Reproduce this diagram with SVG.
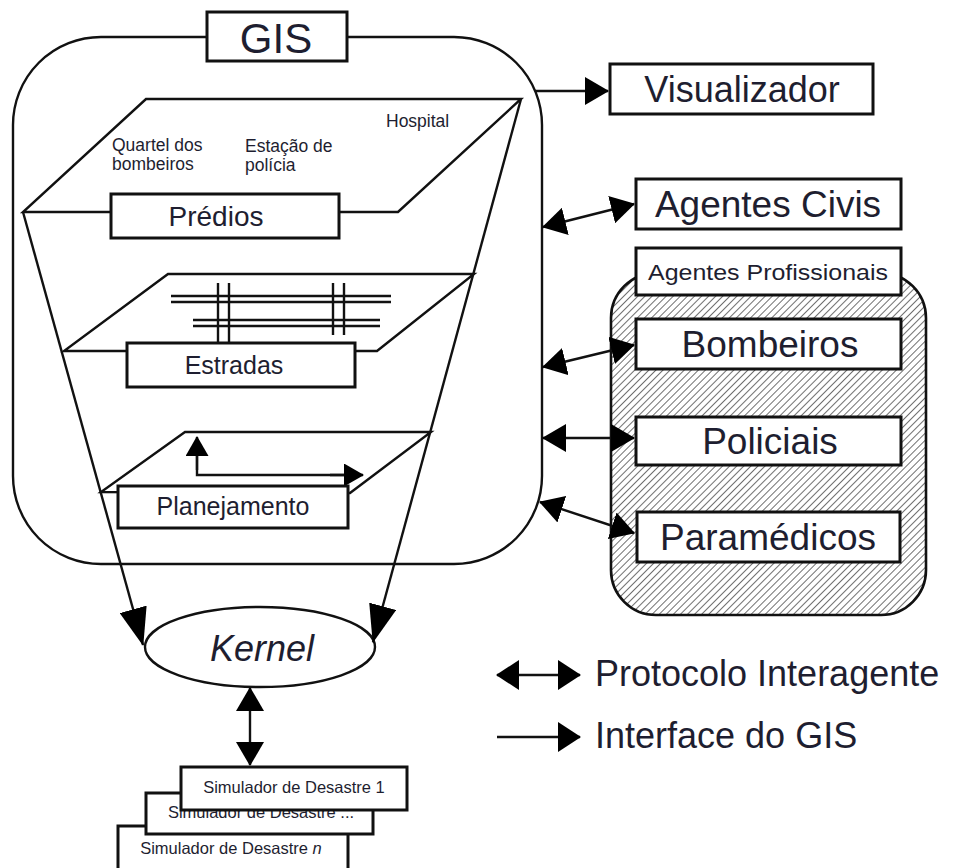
<svg xmlns="http://www.w3.org/2000/svg" width="955" height="868" viewBox="0 0 955 868">
  <style>
    .ln { fill: none; stroke: #111; stroke-width: 2.4; }
    .box { fill: #fff; stroke: #111; stroke-width: 3; }
    .plane { fill: #fff; stroke: #111; stroke-width: 2.4; stroke-linejoin: miter; }
    .t { font-family: "Liberation Sans", Arial, sans-serif; fill: #1e1e30; }
    .mid { text-anchor: middle; }
  </style>
  <defs>
    <marker id="head" markerUnits="userSpaceOnUse" viewBox="0 0 24 28" markerWidth="24" markerHeight="28" refX="23" refY="14" orient="auto-start-reverse">
      <path d="M0,0 L24,14 L0,28 z" fill="#000"/>
    </marker>
    <marker id="headLong" markerUnits="userSpaceOnUse" viewBox="0 0 38 28" markerWidth="38" markerHeight="28" refX="37" refY="14" orient="auto">
      <path d="M0,0 L38,14 L0,28 z" fill="#000"/>
    </marker>
    <marker id="headSmall" markerUnits="userSpaceOnUse" viewBox="0 0 20 23" markerWidth="20" markerHeight="23" refX="19" refY="11.5" orient="auto">
      <path d="M0,0 L20,11.5 L0,23 z" fill="#000"/>
    </marker>
    <marker id="headLegend" markerUnits="userSpaceOnUse" viewBox="0 0 23 30" markerWidth="23" markerHeight="30" refX="22" refY="15" orient="auto-start-reverse">
      <path d="M0,0 L23,15 L0,30 z" fill="#000"/>
    </marker>
    <pattern id="hatch" patternUnits="userSpaceOnUse" width="5" height="5" patternTransform="rotate(45)">
      <rect width="5" height="5" fill="#fff"/>
      <line x1="0" y1="0" x2="0" y2="5" stroke="#222" stroke-width="1.3"/>
    </pattern>
  </defs>

  <!-- GIS container -->
  <g id="gis">
    <rect x="13" y="37" width="529" height="527" rx="88" ry="88" class="ln"/>
    <rect x="207" y="12" width="140" height="49" class="box"/>
    <text x="276" y="53" class="t mid" font-size="42">GIS</text>
  </g>

  <!-- Buildings layer -->
  <g id="predios">
    <polygon points="146,99 521,99 398,212 23,212" class="plane"/>
    <text x="112" y="151" class="t" font-size="17.5">Quartel dos</text>
    <text x="112" y="170" class="t" font-size="17.5">bombeiros</text>
    <text x="245" y="152" class="t" font-size="17.5">Estação de</text>
    <text x="245" y="171" class="t" font-size="17.5">polícia</text>
    <text x="386" y="127" class="t" font-size="17.5">Hospital</text>
    <rect x="111" y="194" width="228" height="44" class="box"/>
    <text x="216" y="226" class="t mid" font-size="28">Prédios</text>
  </g>

  <!-- Roads layer -->
  <g id="estradas">
    <polygon points="168,274 474,274 377,351 64,351" class="plane"/>
    <g class="ln" stroke-width="2">
      <line x1="171" y1="296" x2="391" y2="296"/>
      <line x1="171" y1="302" x2="391" y2="302"/>
      <line x1="193" y1="320" x2="380" y2="320"/>
      <line x1="193" y1="326" x2="380" y2="326"/>
      <line x1="218" y1="283" x2="218" y2="344"/>
      <line x1="229" y1="283" x2="229" y2="344"/>
      <line x1="333" y1="283" x2="333" y2="335"/>
      <line x1="344" y1="283" x2="344" y2="335"/>
    </g>
    <rect x="127" y="343" width="228" height="44" class="box"/>
    <text x="234" y="374" class="t mid" font-size="25">Estradas</text>
  </g>

  <!-- Planning layer -->
  <g id="planejamento">
    <polygon points="185,432 431,432 350,493 101,492" class="plane"/>
    <polyline points="197,455 197,475 344,475" class="ln" stroke-width="2.2"/>
    <line x1="197" y1="470" x2="197" y2="437" class="ln" stroke-width="2.2" marker-end="url(#headSmall)"/>
    <line x1="330" y1="475" x2="363" y2="475" class="ln" stroke-width="2.2" marker-end="url(#headSmall)"/>
    <rect x="118" y="486" width="230" height="42" class="box"/>
    <text x="233" y="515" class="t mid" font-size="25">Planejamento</text>
  </g>

  <!-- Kernel -->
  <g id="kernel">
    <ellipse cx="260" cy="647" rx="115" ry="40" fill="#fff" stroke="#111" stroke-width="2.4"/>
    <text x="262" y="661" class="t mid" font-size="36" font-style="italic">Kernel</text>
  </g>

  <!-- Disaster simulators -->
  <g id="simulador-n">
    <rect x="118" y="826" width="230" height="50" class="box"/>
    <text x="231" y="854" class="t mid" font-size="16.5">Simulador de Desastre <tspan font-style="italic">n</tspan></text>
  </g>
  <g id="simulador-etc">
    <rect x="146" y="793" width="227" height="41" class="box"/>
    <text x="261" y="818" class="t mid" font-size="16.5">Simulador de Desastre ...</text>
  </g>
  <g id="simulador-1">
    <rect x="181" y="767" width="226" height="43" class="box"/>
    <text x="294" y="793" class="t mid" font-size="16.5">Simulador de Desastre 1</text>
  </g>

  <!-- Viewer and agents -->
  <g id="visualizador">
    <rect x="610" y="64" width="263" height="50" class="box"/>
    <text x="742" y="102" class="t mid" font-size="36">Visualizador</text>
  </g>
  <g id="agentes-civis">
    <rect x="636" y="179" width="265" height="50" class="box"/>
    <text x="768" y="217" class="t mid" font-size="37">Agentes Civis</text>
  </g>
  <g id="agentes-profissionais">
    <rect x="611" y="273" width="315" height="342" rx="45" ry="45" fill="url(#hatch)" stroke="#111" stroke-width="2.6"/>
    <rect x="636" y="248" width="265" height="47" class="box"/>
    <text x="768" y="280" class="t mid" font-size="22" textLength="240" lengthAdjust="spacingAndGlyphs">Agentes Profissionais</text>
  </g>
  <g id="bombeiros">
    <rect x="636" y="319" width="265" height="50" class="box"/>
    <text x="770" y="357" class="t mid" font-size="37">Bombeiros</text>
  </g>
  <g id="policiais">
    <rect x="636" y="417" width="265" height="48" class="box"/>
    <text x="770" y="454" class="t mid" font-size="37">Policiais</text>
  </g>
  <g id="paramedicos">
    <rect x="637" y="512" width="263" height="50" class="box"/>
    <text x="768" y="550" class="t mid" font-size="37">Paramédicos</text>
  </g>

  <!-- Connectors -->
  <g id="connectors" class="ln">
    <line x1="23" y1="212" x2="143" y2="645" marker-end="url(#headLong)"/>
    <line x1="521" y1="99" x2="373" y2="642" marker-end="url(#headLong)"/>
    <line x1="250" y1="688" x2="250" y2="765" marker-start="url(#head)" marker-end="url(#head)"/>
    <line x1="535" y1="91" x2="608" y2="91" marker-end="url(#head)"/>
    <line x1="543" y1="227" x2="634" y2="204" marker-start="url(#head)" marker-end="url(#head)"/>
    <line x1="543" y1="367" x2="634" y2="345" marker-start="url(#head)" marker-end="url(#head)"/>
    <line x1="543" y1="438" x2="634" y2="438" marker-start="url(#head)" marker-end="url(#head)"/>
    <line x1="540" y1="502" x2="634" y2="533" marker-start="url(#head)" marker-end="url(#head)"/>
  </g>

  <!-- Legend -->
  <g id="legenda">
    <line x1="497" y1="675" x2="580" y2="675" class="ln" marker-start="url(#headLegend)" marker-end="url(#headLegend)"/>
    <text x="595" y="686" class="t" font-size="36">Protocolo Interagente</text>
    <line x1="497" y1="737" x2="580" y2="737" class="ln" marker-end="url(#headLegend)"/>
    <text x="595" y="748" class="t" font-size="36">Interface do GIS</text>
  </g>
</svg>
